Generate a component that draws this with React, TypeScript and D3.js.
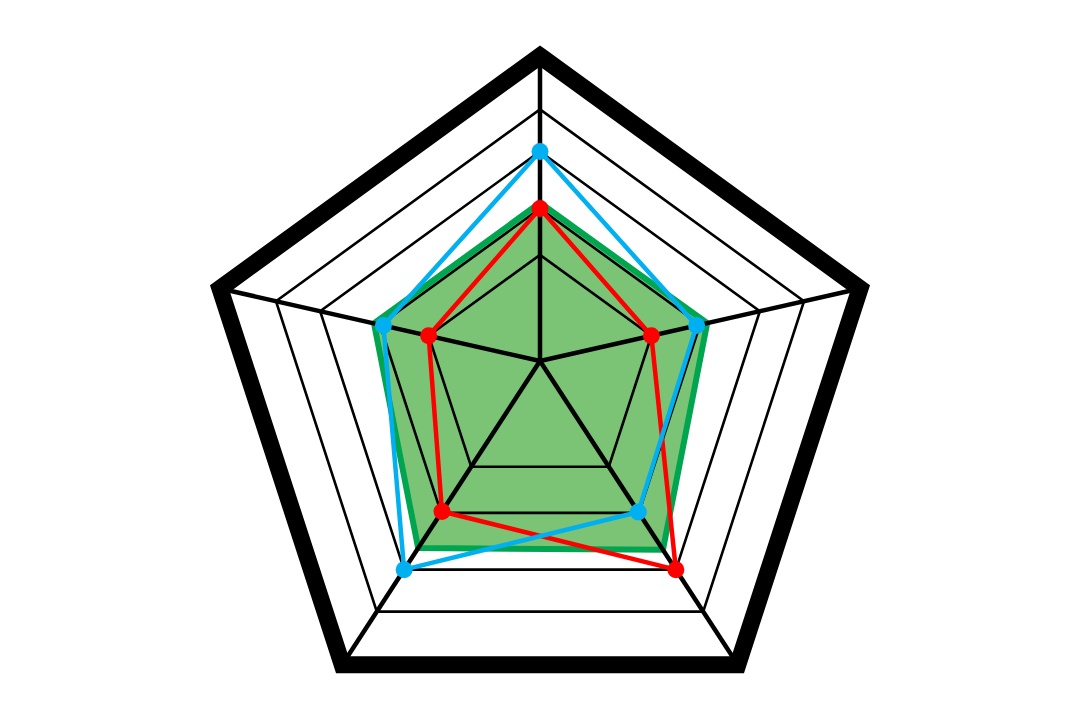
import React from 'react';
import * as d3 from 'd3';

// five axes, no labels shown in the chart
const axes = ['A', 'B', 'C', 'D', 'E'];
const levels = [1, 2, 3, 4, 5];

// series values, in grid-level units (0 = hub, 5 = outer ring)
const greenValues = [2.1, 2.12, 2.65, 2.62, 2.1];
const redValues = [2, 1, 3, 1.97, 1];
const blueValues = [3, 1.93, 1.98, 3, 1.93];

const width = 1080;
const height = 720;

const App: React.FC = () => {
  document.body.style.margin = '0';

  // outer ring is a regular pentagon, spokes meet at a hub a bit above its centre
  const ringCx = 540;
  const ringCy = 392.5;
  const ringR = 336.5;
  const hub = { x: 540, y: 361 };

  const angle = d3.scaleLinear().domain([0, axes.length]).range([-Math.PI / 2, (3 * Math.PI) / 2]);

  // grid levels are not evenly spaced along the spokes
  const t = d3.scaleLinear()
    .domain([0, 1, 2, 3, 4, 5])
    .range([0, 0.348, 0.5, 0.687, 0.825, 1]);

  const tip = (i: number) => ({
    x: ringCx + ringR * Math.cos(angle(i)),
    y: ringCy + ringR * Math.sin(angle(i)),
  });

  const pt = (i: number, v: number): [number, number] => {
    const e = tip(i);
    const f = t(v);
    return [hub.x + f * (e.x - hub.x), hub.y + f * (e.y - hub.y)];
  };

  const shape = d3.line<[number, number]>().curve(d3.curveLinearClosed);
  const poly = (vals: number[]) => shape(vals.map((v, i) => pt(i, v))) || '';

  const series = [
    { values: redValues, color: '#ff0000' },
    { values: blueValues, color: '#00b0f0' },
  ];

  return (
    <svg width={width} height={height} style={{ display: 'block', background: '#fff' }}>
      {/* green area */}
      <path
        d={poly(greenValues)}
        fill="#7bc475"
        stroke="#00a550"
        strokeWidth={6}
        strokeLinejoin="miter"
      />

      {/* grid rings */}
      {levels.map((l) => (
        <path
          key={l}
          d={poly(axes.map(() => l))}
          fill="none"
          stroke="#000"
          strokeWidth={l === 5 ? 17 : 2.6}
          strokeLinejoin="miter"
        />
      ))}

      {/* spokes */}
      {axes.map((a, i) => {
        const [x, y] = pt(i, 5);
        return (
          <line key={a} x1={hub.x} y1={hub.y} x2={x} y2={y} stroke="#000" strokeWidth={4.5} />
        );
      })}

      {/* line series */}
      {series.map((s) => (
        <g key={s.color}>
          <path
            d={poly(s.values)}
            fill="none"
            stroke={s.color}
            strokeWidth={4.5}
            strokeLinejoin="round"
          />
          {s.values.map((v, i) => {
            const [x, y] = pt(i, v);
            return <circle key={i} cx={x} cy={y} r={8.5} fill={s.color} />;
          })}
        </g>
      ))}
    </svg>
  );
};

export default App;
